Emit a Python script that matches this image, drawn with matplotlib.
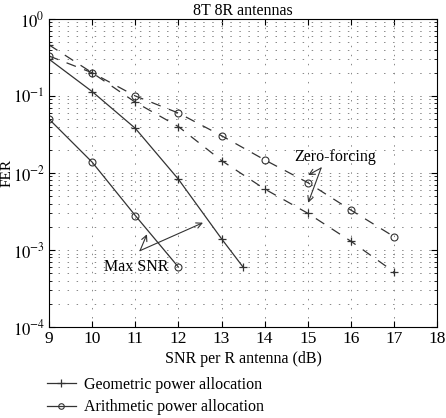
import matplotlib
matplotlib.use('Agg')
import matplotlib.pyplot as plt
import numpy as np

plt.rcParams['font.family'] = ['Liberation Serif', 'DejaVu Serif']
plt.rcParams['mathtext.fontset'] = 'stix'

# SNR per receive antenna (dB)
snr = [9, 10, 11, 12, 13, 14, 15, 16, 17]
snrMaxGeo = [9, 10, 11, 12, 13, 13.5]
snrMaxAri = [9, 10, 11, 12]

# frame error rates
zfGeo = [0.46, 0.20, 0.083, 0.040, 0.0145, 0.0062, 0.0030, 0.0013, 0.00052]
zfAri = [0.33, 0.20, 0.10, 0.060, 0.0305, 0.0148, 0.0075, 0.0033, 0.00149]
maxGeo = [0.30, 0.114, 0.038, 0.0083, 0.0014, 0.0006]
maxAri = [0.050, 0.0138, 0.0028, 0.0006]

fig = plt.figure(figsize=(4.46, 4.18), dpi=100)
ax = fig.add_axes([0.110, 0.2177, 0.870, 0.737])

# zero-forcing curves (dashed)
ax.plot(snr, zfGeo, color='#333333', lw=0.9, dashes=(8, 7), marker='+', ms=6, mew=0.9)
ax.plot(snr, zfAri, color='#333333', lw=0.9, dashes=(8, 7), marker='o', ms=5, mfc='none', mew=0.8)
# max SNR curves (solid)
ax.plot(snrMaxGeo, maxGeo, color='#333333', lw=0.9, marker='+', ms=6, mew=0.9)
ax.plot(snrMaxAri, maxAri, color='#333333', lw=0.9, marker='o', ms=5, mfc='none', mew=0.8)

ax.set_yscale('log')
ax.set_xlim(9, 18)
ax.set_ylim(1e-4, 1)
ax.set_xticks(range(9, 19))
ax.set_yticks([1e-4, 1e-3, 1e-2, 1e-1, 1])
ax.set_yticklabels([r'$10^{-4}$', r'$10^{-3}$', r'$10^{-2}$', r'$10^{-1}$', r'$10^{0}$'])
ax.tick_params(which='both', direction='in', top=True, right=True)
ax.tick_params(axis='x', labelsize=12.5)
ax.tick_params(axis='y', labelsize=12)
ax.tick_params(which='major', length=4, pad=3)
ax.tick_params(which='minor', length=2)
ax.grid(True, which='both', linestyle=(0, (1.5, 7.8)), color='#888888', lw=0.7)

ax.set_title('8T 8R antennas', fontsize=11.5, pad=3)
ax.set_xlabel('SNR per R antenna (dB)', fontsize=11.5, labelpad=3)
fig.text(1 / 446, 0.586, 'FER', fontsize=11, rotation=90, ha='left', va='center')

# annotations
arrowStyle = dict(arrowstyle='->', color='#333333', lw=0.8, shrinkA=0, shrinkB=0)
ax.text(15.64, 0.016, 'Zero-forcing', fontsize=11.5, ha='center', va='center')
ax.annotate('', xy=(15.01, 0.0094), xytext=(15.31, 0.0116), arrowprops=arrowStyle)
ax.annotate('', xy=(15.01, 0.0041), xytext=(15.31, 0.0116), arrowprops=arrowStyle)
ax.text(11.02, 0.0006, 'Max SNR', fontsize=11.5, ha='center', va='center')
ax.annotate('', xy=(11.27, 0.0016), xytext=(11.11, 0.00098), arrowprops=arrowStyle)
ax.annotate('', xy=(12.57, 0.00226), xytext=(11.11, 0.00098), arrowprops=arrowStyle)

# legend below the axes
h1, = ax.plot([], [], color='#333333', lw=0.9, marker='+', ms=6, mew=0.9)
h2, = ax.plot([], [], color='#333333', lw=0.9, marker='o', ms=4, mfc='none', mew=0.8)
fig.legend([h1, h2], ['Geometric power allocation', 'Arithmetic power allocation'],
           loc='upper left', bbox_to_anchor=(0.105, 0.098), frameon=False,
           fontsize=11.5, handlelength=1.8, handletextpad=0.5, labelspacing=0.4,
           borderaxespad=0, borderpad=0)

fig.savefig('out.png', dpi=100)
